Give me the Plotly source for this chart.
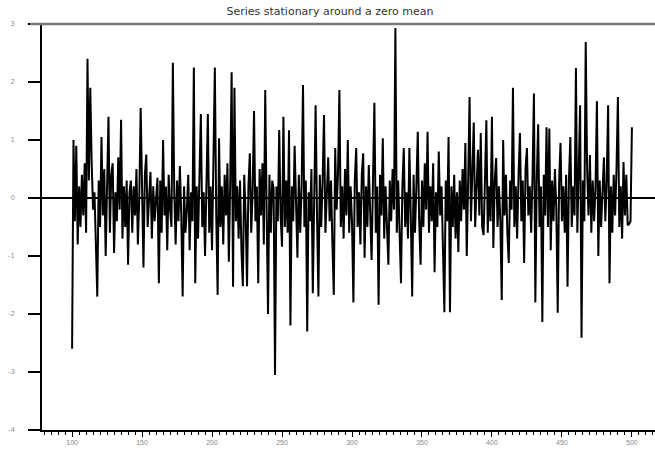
import plotly.graph_objects as go

# Observation index and simulated stationary series values
t_start = 100
values = [
    -2.6, 1.0, -0.4, 0.9, -0.8, 0.2, -0.5, 0.4, -0.3, 0.6,
    -0.6, 2.4, 0.3, 1.9, 0.6, -0.2, 0.1, -0.9, -1.7, 0.3,
    -0.5, 1.05, -0.3, 0.5, -1.0, 0.2, 1.4, -0.6, 0.4, 0.6,
    -0.95, 0.1, -0.4, 0.7, -0.2, 1.35, -0.7, 0.2, -0.5, 0.3,
    -1.15, 0.1, 0.3, -0.6, 0.2, -0.3, 0.5, -0.8, 0.0, 1.55,
    -0.2, -1.2, 0.4, 0.75, -0.5, 0.1, 0.45, -0.7, 0.2, -0.4,
    0.1, 0.35, -1.47, 0.3, -0.6, 1.0, -0.3, 0.2, -0.9, 0.4,
    -0.2, -0.5, 2.33, 0.1, -0.8, 0.3, -0.4, 0.55, -0.3, -1.7,
    0.2, -0.6, -0.2, 0.4, -0.9, 0.1, -0.4, 2.25, -1.47, 0.2,
    -0.7, 0.3, 1.45, -0.5, 0.1, -1.0, 0.3, 1.45, -0.6, 0.2,
    -0.9, 0.4, 2.25, -0.3, -1.67, 1.03, -0.5, 0.2, -0.8, 0.4,
    -0.3, 0.6, -1.1, 0.3, 2.17, -1.53, 1.9, -0.4, 0.2, -0.7,
    0.3, -0.9, -1.52, 0.4, -0.3, -1.52, 0.2, 0.77, -0.6, 0.1,
    1.5, -0.4, 0.2, -1.47, 0.5, -0.3, 0.6, -0.8, 1.86, -0.2,
    -2.0, 0.4, -0.6, 0.3, 0.17, -3.05, 0.2, -0.4, 1.17, -0.3,
    -0.84, 1.4, -0.5, 0.3, -0.6, 1.17, -2.2, 0.2, -0.4, 0.9,
    -0.3, -1.03, 0.4, -0.6, 0.2, 1.95, -0.5, 0.3, -2.3, 0.1,
    -0.4, 0.5, -1.64, 0.2, 1.6, -0.3, -1.7, 0.4, -0.5, 0.3,
    1.43, -0.6, 0.2, 0.7, -0.4, 0.3, -0.8, -1.67, 0.86, -0.2,
    0.4, 1.86, -0.5, 0.2, -0.7, 0.5, -0.3, 1.0, -0.6, 0.2,
    -0.4, -1.8, 0.3, 0.86, -0.5, 0.1, -0.8, 0.4, 0.77, -1.03,
    0.2, -0.5, 0.57, -0.3, -1.07, 0.3, 1.64, -0.6, 0.2, -1.84,
    0.4, -0.3, 1.03, -0.7, 0.2, -0.5, -1.15, 0.3, -0.4, 0.5,
    -0.2, 2.93, -0.6, 0.3, -0.4, -1.47, 0.2, 0.86, -0.5, 0.1,
    -0.7, 0.86, -0.3, -1.7, 0.4, -0.6, 0.2, 1.14, -0.4, -1.15,
    0.3, -0.5, 0.6, -0.2, 1.14, -0.6, 0.2, -0.4, 0.6, -1.28,
    0.1, -0.5, 0.8, -0.3, 0.2, -0.8, -1.97, 0.3, -0.4, 1.05,
    -1.97, 0.2, -0.5, 0.4, -0.7, 0.1, -0.93, 0.3, -0.4, 0.5,
    -0.2, 0.95, -1.0, 0.3, 1.74, -0.4, 0.6, 1.3, -0.5, 0.2,
    0.83, -0.3, 1.12, -0.5, -0.64, 0.3, 1.34, -0.6, 0.2, -0.4,
    1.4, -0.86, 0.3, 0.69, -0.5, 0.2, -0.4, -1.76, 1.0, -0.3,
    0.4, -0.6, -1.12, 0.3, -0.2, 1.9, -0.5, 0.2, -0.7, 0.4,
    1.12, -0.4, 0.3, -1.12, 0.5, 0.86, -0.3, 0.2, -0.6, 0.4,
    1.8, -1.8, 0.3, 1.27, -0.5, 0.2, -2.14, 0.4, -0.3, 1.22,
    -0.5, 1.2, -0.9, 0.3, -0.4, 0.5, -0.2, -1.98, 0.3, 0.95,
    -0.4, 0.2, -0.6, 0.4, -1.53, 0.3, 1.05, -0.5, 0.2, -0.3,
    2.24, -0.6, 0.4, 1.6, -2.41, 0.3, -0.4, 2.69, 0.5, -0.3,
    0.74, -0.6, 0.3, -0.4, 0.2, 1.67, -1.0, 0.3, -0.5, 0.2,
    0.7, -0.4, 0.3, 1.6, -1.47, 0.2, -0.6, 0.4, -0.3, 0.5,
    1.74, -0.5, 0.2, -0.7, 0.62, -0.3, 0.4, -0.47, -0.45, -0.4,
    1.22,
]
obs = [t_start + i for i in range(len(values))]

x_ticks = [100, 150, 200, 250, 300, 350, 400, 450, 500]
y_ticks = [-4, -3, -2, -1, 0, 1, 2, 3]

fig = go.Figure()
fig.add_trace(go.Scatter(
    x=obs, y=values, mode="lines",
    line=dict(color="black", width=2),
    showlegend=False, hoverinfo="skip",
))

label_font = dict(family="Liberation Sans", size=7, color="#888888")

fig.update_layout(
    width=655, height=449,
    margin=dict(l=42, r=0, t=24, b=19),
    paper_bgcolor="white", plot_bgcolor="white",
    title=dict(
        text="Series stationary around a zero mean",
        x=330 / 655, xanchor="center", y=1 - 11 / 449, yanchor="middle",
        font=dict(family="DejaVu Sans", size=11, color="#333333"),
    ),
    xaxis=dict(
        range=[78.5, 516.5],
        tickvals=x_ticks, ticktext=[str(v) for v in x_ticks],
        ticks="outside", ticklen=5, tickwidth=1, tickcolor="black",
        minor=dict(dtick=5, tick0=0, ticks="outside", ticklen=3,
                   tickwidth=1, tickcolor="black", showgrid=False),
        showgrid=False, zeroline=False,
        showline=True, linecolor="black", linewidth=2, mirror=False,
        tickfont=label_font,
    ),
    yaxis=dict(
        range=[-4, 3],
        tickvals=y_ticks, ticktext=[str(v) for v in y_ticks],
        ticks="outside", ticklen=12, tickwidth=2, tickcolor="black",
        showgrid=False,
        zeroline=True, zerolinecolor="black", zerolinewidth=1.5,
        showline=True, linecolor="black", linewidth=2,
        tickfont=label_font, ticklabelstandoff=12,
    ),
    shapes=[
        # top frame line
        dict(type="line", xref="paper", yref="paper", x0=-12 / 613, x1=1,
             y0=1, y1=1, line=dict(color="#777777", width=2.5)),
    ],
)

fig.write_html("out.html")
